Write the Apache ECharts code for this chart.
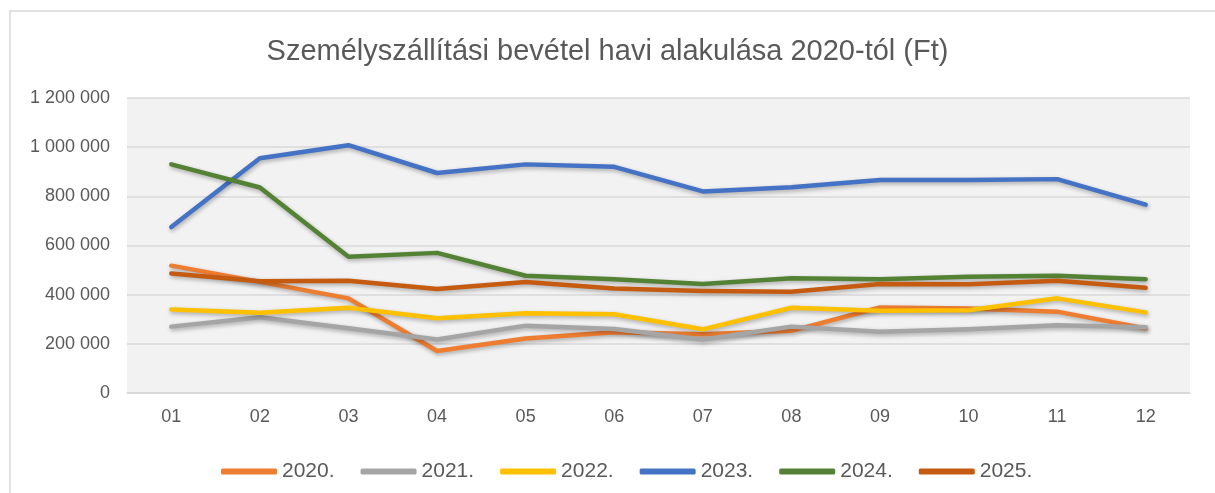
<!DOCTYPE html>
<html>
<head>
<meta charset="utf-8">
<script src="https://cdn.jsdelivr.net/npm/echarts@6/dist/echarts.min.js"></script>
<style>
  html, body { margin: 0; padding: 0; background: #fff; }
  #chart { width: 1215px; height: 493px; }
</style>
</head>
<body>
<div id="chart"></div>
<script>
const months = ['01', '02', '03', '04', '05', '06', '07', '08', '09', '10', '11', '12']

const y2020 = [518000, 452000, 385000, 171000, 222000, 247000, 239000, 253000, 348000, 344000, 331000, 263000]
const y2021 = [270000, 308000, 263000, 218000, 274000, 260000, 218000, 270000, 249000, 259000, 276000, 267000]
const y2022 = [340000, 326000, 347000, 304000, 324000, 320000, 259000, 347000, 335000, 337000, 385000, 328000]
const y2023 = [675000, 955000, 1008000, 895000, 930000, 920000, 820000, 837000, 866000, 866000, 870000, 766000]
const y2024 = [930000, 836000, 554000, 570000, 477000, 463000, 443000, 467000, 463000, 473000, 477000, 463000]
const y2025 = [486000, 455000, 457000, 423000, 452000, 425000, 415000, 412000, 443000, 442000, 457000, 428000]

const seriesNames = ['2020.', '2021.', '2022.', '2023.', '2024.', '2025.']
const seriesColors = ['#ED7D31', '#A5A5A5', '#FFC000', '#4472C4', '#548235', '#C55A11']
const seriesData = [y2020, y2021, y2022, y2023, y2024, y2025]

const font = "'Liberation Sans', Arial, sans-serif"
const textColor = '#595959'

const chart = echarts.init(document.getElementById('chart'))

function fmt(v) {
  return String(v).replace(/\B(?=(\d{3})+(?!\d))/g, ' ')
}

const options = {
  animation: false,
  textStyle: { fontFamily: font },
  graphic: [
    {
      type: 'rect',
      shape: { x: 10, y: 11, width: 1300, height: 600 },
      style: { fill: 'none', stroke: '#D9D9D9', lineWidth: 1.5 },
      silent: true
    }
  ],
  title: {
    text: 'Személyszállítási bevétel havi alakulása 2020-tól (Ft)',
    left: 'center',
    top: 32,
    textStyle: {
      fontFamily: font,
      fontSize: 29,
      fontWeight: 'normal',
      color: textColor
    }
  },
  legend: {
    left: 216,
    top: 456,
    itemWidth: 56,
    itemHeight: 6,
    itemGap: 26,
    icon: 'roundRect',
    textStyle: { fontFamily: font, fontSize: 21, color: textColor },
    data: seriesNames
  },
  grid: {
    left: 127,
    right: 25,
    top: 98,
    bottom: 100,
    show: true,
    backgroundColor: '#F2F2F2',
    borderWidth: 0,
    containLabel: false
  },
  xAxis: {
    type: 'category',
    data: months,
    boundaryGap: true,
    axisLine: { lineStyle: { color: '#D9D9D9', width: 1.5 } },
    axisTick: { show: false },
    axisLabel: { margin: 15, fontFamily: font, fontSize: 18, color: textColor }
  },
  yAxis: {
    type: 'value',
    min: 0,
    max: 1200000,
    interval: 200000,
    axisLine: { show: false },
    axisTick: { show: false },
    splitLine: { lineStyle: { color: '#D9D9D9', width: 1.5 } },
    axisLabel: {
      margin: 17,
      fontFamily: font,
      fontSize: 18,
      color: textColor,
      formatter: fmt
    }
  },
  series: seriesNames.map((name, i) => ({
    name: name,
    type: 'line',
    data: seriesData[i],
    symbol: 'none',
    itemStyle: { color: seriesColors[i] },
    lineStyle: {
      color: seriesColors[i],
      width: 4.5,
      cap: 'round',
      join: 'round',
      shadowColor: 'rgba(0,0,0,0.3)',
      shadowBlur: 4,
      shadowOffsetX: 1,
      shadowOffsetY: 2
    }
  }))
}

chart.setOption(options)
</script>
</body>
</html>
